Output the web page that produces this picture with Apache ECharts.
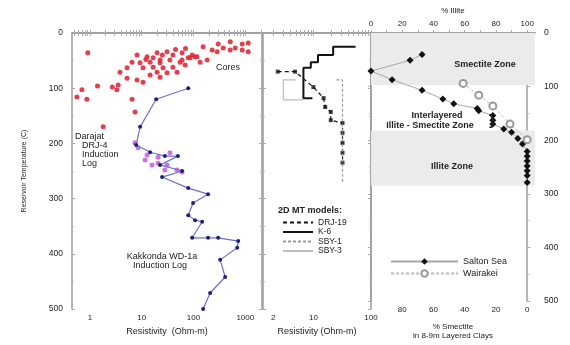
<!DOCTYPE html>
<html>
<head>
<meta charset="utf-8">
<script src="https://cdn.jsdelivr.net/npm/echarts@6/dist/echarts.min.js"></script>
<style>
  html, body { margin: 0; padding: 0; background: #fff; }
  #chart { width: 570px; height: 345px; }
</style>
</head>
<body>
<div id="chart"></div>
<script>
// Three panels sharing a temperature axis: log resistivity (wells), MT models, clay mineralogy.
const tempTicks = [0, 100, 200, 300, 400, 500];
const resLabels1 = [1, 10, 100, 1000];
const resLabels2 = [2, 10, 100];
const illiteLabels = [0, 20, 40, 60, 80, 100];
const smectiteLabels = [80, 60, 40, 20, 0];

// [resistivity Ohm-m, temperature C]
const cores = [
  [0.91, 36], [8.1, 40], [12.7, 43], [19.8, 36], [30.8, 34], [40, 40], [60, 36], [94, 40],
  [6.5, 53], [9.3, 54], [14.5, 53], [22.6, 54], [35, 49], [55, 53], [86, 45], [117, 43],
  [10.6, 63], [16.6, 62], [25.8, 63], [40, 62], [69, 58], [5.2, 63], [3.8, 71], [19.8, 71],
  [30.8, 72], [48, 71], [14.5, 76], [22.6, 80], [8.1, 85], [5.2, 82], [10.6, 89], [3.5, 94],
  [2.7, 98], [1.4, 96], [0.7, 103], [0.56, 116], [0.87, 120], [6.5, 120], [7.4, 143], [1.8, 170],
  [3.3, 103], [22.6, 49], [16.6, 45], [60, 49], [79, 45], [107, 43], [153, 25], [229, 31],
  [286, 34], [374, 27], [511, 31], [638, 27], [871, 31], [1138, 34], [134, 53], [183, 49],
  [511, 16], [871, 20], [1138, 18], [300, 20], [45, 30], [70, 28], [25, 40], [12, 48]
];
const drj4Log = [
  [7.4, 199], [8.5, 208], [12.7, 221], [15.8, 239], [20.7, 236], [30.8, 239],
  [20.7, 225], [35, 217], [48, 248], [60, 252], [11.6, 230], [28, 248]
];
const kakkondaLog = [
  [79, 100], [19, 120], [9.3, 170], [7.8, 203], [14.5, 216], [28, 223], [50, 223], [22.6, 239],
  [60, 250], [24.7, 261], [79, 281], [191, 292], [98, 308], [79, 330], [107, 339], [147, 342],
  [94, 371], [191, 371], [299, 371], [729, 377], [697, 389], [327, 411], [408, 442], [209, 471], [153, 500]
];

// 2D MT models
const drj19 = [[2.4, 70], [4.8, 70], [10, 98], [15, 118], [16, 134], [20, 143], [20, 158], [32, 163], [32, 181], [32, 199], [32, 217], [32, 235]];
const k6 = [[54, 25], [22, 25], [22, 40], [12, 40], [12, 53], [9, 53], [9, 63], [6.7, 63], [6.7, 118], [9.6, 118]];
const sby1 = [[25, 85], [32, 85], [32, 272]];
const sby3 = [[5, 85], [3, 85], [3, 121], [6.7, 121]];

// [% illite, temperature C]
const saltonSea = [
  [32.7, 40], [25, 51], [0, 71], [13.5, 87], [32.7, 107], [46, 123], [53, 132], [68, 141], [69, 145],
  [78, 154], [78, 163], [78, 170], [85, 179], [90, 185], [94, 197], [97, 207], [100, 221], [100, 230],
  [100, 239], [100, 248], [100, 257], [100, 266], [100, 279]
];
const wairakei = [[59, 94], [69, 116], [78, 136], [89, 170], [100, 199]];
const zones = [[0, 97], [182, 285]];

function logTicks(lo, hi) {
  const out = [];
  for (let d = -1; d <= 3; d++) {
    for (let m = 1; m <= 9; m++) {
      const v = m * Math.pow(10, d);
      if (v >= lo && v <= hi) out.push(v);
    }
  }
  return out;
}

const gray = '#9c9c9c';
const txt = '#222';
const font = 'Liberation Sans, Arial, sans-serif';
const tick = { inside: true, length: 3, lineStyle: { color: '#aaa' } };

function xLog(grid, pos, lo, hi, labels, name) {
  return {
    type: 'log', gridIndex: grid, position: pos, min: lo, max: hi,
    axisLine: { lineStyle: { color: gray, width: 1.5 } },
    axisTick: Object.assign({ customValues: logTicks(lo, hi) }, tick),
    axisLabel: labels
      ? { customValues: labels, formatter: v => String(Math.round(v)), color: txt, fontSize: 8, fontFamily: font, margin: 5 }
      : { show: false },
    splitLine: { show: false },
    name: name || '', nameLocation: 'middle', nameGap: 16,
    nameTextStyle: { color: txt, fontSize: 9, fontFamily: font }
  };
}

function yTemp(grid, pos, showLabels, name) {
  return {
    type: 'value', gridIndex: grid, position: pos, min: 0, max: 500, interval: 100, inverse: true,
    axisLine: { lineStyle: { color: gray, width: 1.5 } },
    axisTick: tick,
    minorTick: { show: true, splitNumber: 2, length: 2, lineStyle: { color: '#bbb' } },
    axisLabel: showLabels
      ? { color: txt, fontSize: 8.5, fontFamily: font, margin: 9, customValues: tempTicks }
      : { show: false },
    splitLine: { show: false },
    name: name || '', nameLocation: 'middle', nameGap: 44,
    nameTextStyle: { color: txt, fontSize: 7, fontFamily: font }
  };
}

const chart = echarts.init(document.getElementById('chart'));

const label = (x, y, text, extra) => ({
  type: 'text', x, y, z: 100,
  style: Object.assign({ text, fill: txt, font: '9px ' + font }, extra || {})
});

chart.setOption({
  animation: false,
  grid: [
    { left: 72, right: 308, top: 33, bottom: 36 },
    { left: 263, right: 199, top: 33, bottom: 36 },
    { left: 371, right: 35, top: 33, bottom: 36 }
  ],
  xAxis: [
    xLog(0, 'bottom', 0.45, 2100, resLabels1, 'Resistivity  (Ohm-m)'),
    xLog(0, 'top', 0.45, 2100, null),
    xLog(1, 'bottom', 1.33, 100, resLabels2, 'Resistivity (Ohm-m)'),
    xLog(1, 'top', 1.33, 100, null),
    {
      type: 'value', gridIndex: 2, position: 'bottom', min: -5, max: 100, inverse: true,
      axisLine: { lineStyle: { color: gray, width: 1.5 } },
      axisTick: Object.assign({ customValues: [0, 10, 20, 30, 40, 50, 60, 70, 80, 90, 100] }, tick),
      axisLabel: { customValues: smectiteLabels, color: txt, fontSize: 8, fontFamily: font, margin: 5 },
      splitLine: { show: false },
      name: '% Smectite\nin 8-9m Layered Clays', nameLocation: 'middle', nameGap: 21,
      nameTextStyle: { color: txt, fontSize: 8, fontFamily: font, lineHeight: 9 }
    },
    {
      type: 'value', gridIndex: 2, position: 'top', min: 0, max: 105,
      axisLine: { lineStyle: { color: gray, width: 1.5 } },
      axisTick: Object.assign({ customValues: [0, 10, 20, 30, 40, 50, 60, 70, 80, 90, 100] }, tick),
      axisLabel: { customValues: illiteLabels, color: txt, fontSize: 8, fontFamily: font, margin: 5 },
      splitLine: { show: false },
      name: '% Illite', nameLocation: 'middle', nameGap: 18,
      nameTextStyle: { color: txt, fontSize: 8, fontFamily: font }
    }
  ],
  yAxis: [
    yTemp(0, 'left', true, 'Reservoir Temperature (C)'),
    yTemp(0, 'right', false),
    yTemp(1, 'left', false),
    yTemp(1, 'right', false),
    yTemp(2, 'left', false),
    yTemp(2, 'right', true)
  ],
  legend: [
    {
      data: ['DRJ-19', 'K-6', 'SBY-1', 'SBY-3'],
      orient: 'vertical', left: 277, top: 213, itemWidth: 30, itemHeight: 6, itemGap: 0.5,
      itemStyle: { opacity: 0 },
      textStyle: { color: txt, fontSize: 8.5, fontFamily: font, lineHeight: 7 }
    },
    {
      data: ['Salton Sea', 'Wairakei'],
      orient: 'vertical', left: 385, top: 252, itemWidth: 67, itemHeight: 8, itemGap: 3,
      textStyle: { color: txt, fontSize: 9, fontFamily: font }
    }
  ],
  graphic: [
    label(216, 63, 'Cores'),
    label(75, 132, 'Darajat'),
    label(82, 141, 'DRJ-4'),
    label(82, 150, 'Induction'),
    label(82, 159, 'Log'),
    label(162, 252, 'Kakkonda WD-1a', { align: 'center' }),
    label(160, 261, 'Induction Log', { align: 'center' }),
    label(278, 206, '2D MT models:', { font: 'bold 9px ' + font }),
    label(485, 60, 'Smectite Zone', { align: 'center', font: 'bold 9px ' + font }),
    label(437, 111, 'Interlayered', { align: 'center', font: 'bold 9px ' + font }),
    label(430, 121, 'Illite - Smectite Zone', { align: 'center', font: 'bold 9px ' + font }),
    label(489, 113, '}', { font: 'bold 15px ' + font }),
    label(452, 162, 'Illite Zone', { align: 'center', font: 'bold 9px ' + font })
  ],
  series: [
    {
      name: 'Cores', type: 'scatter', xAxisIndex: 0, yAxisIndex: 0, data: cores,
      symbolSize: 5, itemStyle: { color: '#e02a3a', opacity: 0.9 }
    },
    {
      name: 'DRJ-4', type: 'scatter', xAxisIndex: 0, yAxisIndex: 0, data: drj4Log,
      symbolSize: 5, itemStyle: { color: '#c54fd0' }
    },
    {
      name: 'Kakkonda WD-1a', type: 'line', xAxisIndex: 0, yAxisIndex: 0, data: kakkondaLog,
      symbol: 'circle', symbolSize: 4, lineStyle: { color: '#6d6fd6', width: 1.2 },
      itemStyle: { color: '#1c1f7a' }
    },
    {
      name: 'DRJ-19', type: 'line', xAxisIndex: 2, yAxisIndex: 2, data: drj19,
      symbol: 'none', lineStyle: { color: '#111', width: 1.2, type: [4, 3] }, itemStyle: { color: '#111' }
    },
    {
      name: 'DRJ-19 pts', type: 'scatter', xAxisIndex: 2, yAxisIndex: 2, data: drj19,
      symbol: 'rect', symbolSize: 4, itemStyle: { color: '#111' }
    },
    {
      name: 'K-6', type: 'line', xAxisIndex: 2, yAxisIndex: 2, data: k6,
      symbol: 'none', lineStyle: { color: '#111', width: 2 }, itemStyle: { color: '#111' }
    },
    {
      name: 'SBY-1', type: 'line', xAxisIndex: 2, yAxisIndex: 2, data: sby1,
      symbol: 'none', lineStyle: { color: '#9a9a9a', width: 1.2, type: [3, 2] }, itemStyle: { color: '#9a9a9a' }
    },
    {
      name: 'SBY-3', type: 'line', xAxisIndex: 2, yAxisIndex: 2, data: sby3,
      symbol: 'none', lineStyle: { color: '#bdbdbd', width: 1.2 }, itemStyle: { color: '#bdbdbd' }
    },
    {
      name: 'Salton Sea', type: 'line', xAxisIndex: 5, yAxisIndex: 4, data: saltonSea,
      symbol: 'diamond', symbolSize: 7, lineStyle: { color: '#a8a8a8', width: 1 },
      itemStyle: { color: '#111' },
      markArea: {
        silent: true,
        itemStyle: { color: '#ebebeb' },
        data: zones.map(z => [{ yAxis: z[0] }, { yAxis: z[1] }])
      }
    },
    {
      name: 'Wairakei', type: 'line', xAxisIndex: 5, yAxisIndex: 4, data: wairakei,
      symbol: 'emptyCircle', symbolSize: 7, lineStyle: { color: '#bbb', width: 1, type: [3, 2] },
      itemStyle: { color: '#999', borderColor: '#999' }
    }
  ]
});
</script>
</body>
</html>
